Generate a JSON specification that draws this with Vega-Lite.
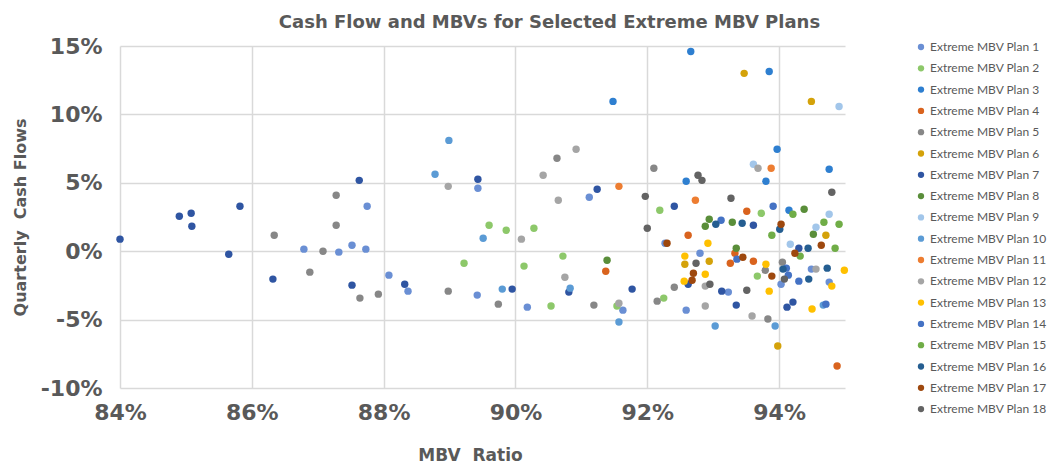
{
  "$schema": "https://vega.github.io/schema/vega-lite/v6.json",
  "autosize": {"type": "none"},
  "width": 725,
  "height": 342,
  "padding": {"left": 120, "top": 46, "right": 206, "bottom": 79},
  "background": "white",
  "config": {"view": {"stroke": null}},
  "title": {
    "text": "Cash Flow and MBVs for Selected Extreme MBV Plans",
    "font": "DejaVu Sans", "fontSize": 18, "fontWeight": "bold", "color": "#595959",
    "anchor": "middle", "dx": 67, "offset": 3
  },
  "datasets": {
    "pts": [
      {"plan": "Extreme MBV Plan 1", "mbv": 0.8775, "cf": 0.0328},
      {"plan": "Extreme MBV Plan 1", "mbv": 0.8679, "cf": 0.0015},
      {"plan": "Extreme MBV Plan 1", "mbv": 0.8732, "cf": -0.0007},
      {"plan": "Extreme MBV Plan 1", "mbv": 0.8752, "cf": 0.0044},
      {"plan": "Extreme MBV Plan 1", "mbv": 0.8773, "cf": 0.0015},
      {"plan": "Extreme MBV Plan 1", "mbv": 0.8808, "cf": -0.0175},
      {"plan": "Extreme MBV Plan 1", "mbv": 0.8837, "cf": -0.0292},
      {"plan": "Extreme MBV Plan 1", "mbv": 0.8943, "cf": 0.046},
      {"plan": "Extreme MBV Plan 1", "mbv": 0.8942, "cf": -0.0321},
      {"plan": "Extreme MBV Plan 1", "mbv": 0.9018, "cf": -0.0409},
      {"plan": "Extreme MBV Plan 1", "mbv": 0.9112, "cf": 0.0394},
      {"plan": "Extreme MBV Plan 1", "mbv": 0.9163, "cf": -0.0431},
      {"plan": "Extreme MBV Plan 1", "mbv": 0.9227, "cf": 0.0058},
      {"plan": "Extreme MBV Plan 1", "mbv": 0.928, "cf": -0.0015},
      {"plan": "Extreme MBV Plan 1", "mbv": 0.9259, "cf": -0.0431},
      {"plan": "Extreme MBV Plan 1", "mbv": 0.9323, "cf": -0.0299},
      {"plan": "Extreme MBV Plan 1", "mbv": 0.9403, "cf": -0.0241},
      {"plan": "Extreme MBV Plan 1", "mbv": 0.9449, "cf": -0.0131},
      {"plan": "Extreme MBV Plan 1", "mbv": 0.9476, "cf": -0.0226},
      {"plan": "Extreme MBV Plan 2", "mbv": 0.8922, "cf": -0.0088},
      {"plan": "Extreme MBV Plan 2", "mbv": 0.896, "cf": 0.019},
      {"plan": "Extreme MBV Plan 2", "mbv": 0.8986, "cf": 0.0153},
      {"plan": "Extreme MBV Plan 2", "mbv": 0.9028, "cf": 0.0168},
      {"plan": "Extreme MBV Plan 2", "mbv": 0.9013, "cf": -0.0109},
      {"plan": "Extreme MBV Plan 2", "mbv": 0.9054, "cf": -0.0401},
      {"plan": "Extreme MBV Plan 2", "mbv": 0.9072, "cf": -0.0036},
      {"plan": "Extreme MBV Plan 2", "mbv": 0.9154, "cf": -0.0401},
      {"plan": "Extreme MBV Plan 2", "mbv": 0.9219, "cf": 0.0299},
      {"plan": "Extreme MBV Plan 2", "mbv": 0.9373, "cf": 0.0277},
      {"plan": "Extreme MBV Plan 2", "mbv": 0.9367, "cf": -0.0182},
      {"plan": "Extreme MBV Plan 2", "mbv": 0.9225, "cf": -0.0343},
      {"plan": "Extreme MBV Plan 3", "mbv": 0.9148, "cf": 0.1095},
      {"plan": "Extreme MBV Plan 3", "mbv": 0.9266, "cf": 0.146},
      {"plan": "Extreme MBV Plan 3", "mbv": 0.9385, "cf": 0.1314},
      {"plan": "Extreme MBV Plan 3", "mbv": 0.9397, "cf": 0.0745},
      {"plan": "Extreme MBV Plan 3", "mbv": 0.9259, "cf": 0.0511},
      {"plan": "Extreme MBV Plan 3", "mbv": 0.938, "cf": 0.0511},
      {"plan": "Extreme MBV Plan 3", "mbv": 0.9476, "cf": 0.0599},
      {"plan": "Extreme MBV Plan 3", "mbv": 0.9415, "cf": 0.0299},
      {"plan": "Extreme MBV Plan 4", "mbv": 0.9137, "cf": -0.0146},
      {"plan": "Extreme MBV Plan 4", "mbv": 0.9262, "cf": 0.0117},
      {"plan": "Extreme MBV Plan 4", "mbv": 0.9351, "cf": 0.0292},
      {"plan": "Extreme MBV Plan 4", "mbv": 0.9333, "cf": -0.0015},
      {"plan": "Extreme MBV Plan 4", "mbv": 0.9361, "cf": -0.0073},
      {"plan": "Extreme MBV Plan 4", "mbv": 0.9326, "cf": -0.0088},
      {"plan": "Extreme MBV Plan 4", "mbv": 0.9488, "cf": -0.0839},
      {"plan": "Extreme MBV Plan 5", "mbv": 0.8728, "cf": 0.0409},
      {"plan": "Extreme MBV Plan 5", "mbv": 0.8728, "cf": 0.019},
      {"plan": "Extreme MBV Plan 5", "mbv": 0.8634, "cf": 0.0117},
      {"plan": "Extreme MBV Plan 5", "mbv": 0.8708, "cf": 0.0},
      {"plan": "Extreme MBV Plan 5", "mbv": 0.8688, "cf": -0.0153},
      {"plan": "Extreme MBV Plan 5", "mbv": 0.8764, "cf": -0.0343},
      {"plan": "Extreme MBV Plan 5", "mbv": 0.8792, "cf": -0.0314},
      {"plan": "Extreme MBV Plan 5", "mbv": 0.8898, "cf": -0.0292},
      {"plan": "Extreme MBV Plan 5", "mbv": 0.8974, "cf": -0.0387},
      {"plan": "Extreme MBV Plan 5", "mbv": 0.9063, "cf": 0.0679},
      {"plan": "Extreme MBV Plan 5", "mbv": 0.9119, "cf": -0.0394},
      {"plan": "Extreme MBV Plan 5", "mbv": 0.9215, "cf": -0.0365},
      {"plan": "Extreme MBV Plan 5", "mbv": 0.921, "cf": 0.0606},
      {"plan": "Extreme MBV Plan 5", "mbv": 0.9241, "cf": -0.0263},
      {"plan": "Extreme MBV Plan 5", "mbv": 0.9383, "cf": -0.0496},
      {"plan": "Extreme MBV Plan 5", "mbv": 0.9379, "cf": -0.0139},
      {"plan": "Extreme MBV Plan 5", "mbv": 0.9405, "cf": -0.008},
      {"plan": "Extreme MBV Plan 6", "mbv": 0.9347, "cf": 0.13},
      {"plan": "Extreme MBV Plan 6", "mbv": 0.9449, "cf": 0.1095},
      {"plan": "Extreme MBV Plan 6", "mbv": 0.9257, "cf": -0.0095},
      {"plan": "Extreme MBV Plan 6", "mbv": 0.9294, "cf": -0.0073},
      {"plan": "Extreme MBV Plan 6", "mbv": 0.9398, "cf": -0.0693},
      {"plan": "Extreme MBV Plan 6", "mbv": 0.9471, "cf": 0.0117},
      {"plan": "Extreme MBV Plan 7", "mbv": 0.84, "cf": 0.0088},
      {"plan": "Extreme MBV Plan 7", "mbv": 0.849, "cf": 0.0255},
      {"plan": "Extreme MBV Plan 7", "mbv": 0.8508, "cf": 0.0277},
      {"plan": "Extreme MBV Plan 7", "mbv": 0.8509, "cf": 0.0182},
      {"plan": "Extreme MBV Plan 7", "mbv": 0.8582, "cf": 0.0328},
      {"plan": "Extreme MBV Plan 7", "mbv": 0.8565, "cf": -0.0022},
      {"plan": "Extreme MBV Plan 7", "mbv": 0.8632, "cf": -0.0204},
      {"plan": "Extreme MBV Plan 7", "mbv": 0.8763, "cf": 0.0518},
      {"plan": "Extreme MBV Plan 7", "mbv": 0.8752, "cf": -0.0248},
      {"plan": "Extreme MBV Plan 7", "mbv": 0.8832, "cf": -0.0241},
      {"plan": "Extreme MBV Plan 7", "mbv": 0.8943, "cf": 0.0526},
      {"plan": "Extreme MBV Plan 7", "mbv": 0.8995, "cf": -0.0277},
      {"plan": "Extreme MBV Plan 7", "mbv": 0.9081, "cf": -0.0299},
      {"plan": "Extreme MBV Plan 7", "mbv": 0.9124, "cf": 0.0453},
      {"plan": "Extreme MBV Plan 7", "mbv": 0.9177, "cf": -0.0277},
      {"plan": "Extreme MBV Plan 7", "mbv": 0.9241, "cf": 0.0328},
      {"plan": "Extreme MBV Plan 7", "mbv": 0.9361, "cf": 0.019},
      {"plan": "Extreme MBV Plan 7", "mbv": 0.9262, "cf": -0.0241},
      {"plan": "Extreme MBV Plan 7", "mbv": 0.9313, "cf": -0.0292},
      {"plan": "Extreme MBV Plan 7", "mbv": 0.9335, "cf": -0.0394},
      {"plan": "Extreme MBV Plan 7", "mbv": 0.943, "cf": 0.0022},
      {"plan": "Extreme MBV Plan 7", "mbv": 0.9412, "cf": -0.0409},
      {"plan": "Extreme MBV Plan 7", "mbv": 0.9421, "cf": -0.0372},
      {"plan": "Extreme MBV Plan 8", "mbv": 0.9139, "cf": -0.0066},
      {"plan": "Extreme MBV Plan 8", "mbv": 0.9294, "cf": 0.0234},
      {"plan": "Extreme MBV Plan 8", "mbv": 0.9288, "cf": 0.0182},
      {"plan": "Extreme MBV Plan 8", "mbv": 0.9329, "cf": 0.0212},
      {"plan": "Extreme MBV Plan 8", "mbv": 0.9438, "cf": 0.0307},
      {"plan": "Extreme MBV Plan 8", "mbv": 0.9452, "cf": 0.0124},
      {"plan": "Extreme MBV Plan 8", "mbv": 0.9335, "cf": 0.0022},
      {"plan": "Extreme MBV Plan 9", "mbv": 0.9491, "cf": 0.1058},
      {"plan": "Extreme MBV Plan 9", "mbv": 0.9361, "cf": 0.0635},
      {"plan": "Extreme MBV Plan 9", "mbv": 0.9476, "cf": 0.027},
      {"plan": "Extreme MBV Plan 9", "mbv": 0.9456, "cf": 0.0175},
      {"plan": "Extreme MBV Plan 9", "mbv": 0.9417, "cf": 0.0051},
      {"plan": "Extreme MBV Plan 10", "mbv": 0.8899, "cf": 0.081},
      {"plan": "Extreme MBV Plan 10", "mbv": 0.8878, "cf": 0.0562},
      {"plan": "Extreme MBV Plan 10", "mbv": 0.8951, "cf": 0.0095},
      {"plan": "Extreme MBV Plan 10", "mbv": 0.898, "cf": -0.0277},
      {"plan": "Extreme MBV Plan 10", "mbv": 0.9083, "cf": -0.027},
      {"plan": "Extreme MBV Plan 10", "mbv": 0.9157, "cf": -0.0518},
      {"plan": "Extreme MBV Plan 10", "mbv": 0.9303, "cf": -0.0547},
      {"plan": "Extreme MBV Plan 10", "mbv": 0.9394, "cf": -0.0547},
      {"plan": "Extreme MBV Plan 10", "mbv": 0.9467, "cf": -0.0394},
      {"plan": "Extreme MBV Plan 11", "mbv": 0.9157, "cf": 0.0474},
      {"plan": "Extreme MBV Plan 11", "mbv": 0.9273, "cf": 0.0372},
      {"plan": "Extreme MBV Plan 11", "mbv": 0.9388, "cf": 0.0606},
      {"plan": "Extreme MBV Plan 12", "mbv": 0.8898, "cf": 0.0474},
      {"plan": "Extreme MBV Plan 12", "mbv": 0.9009, "cf": 0.0088},
      {"plan": "Extreme MBV Plan 12", "mbv": 0.9092, "cf": 0.0745},
      {"plan": "Extreme MBV Plan 12", "mbv": 0.9042, "cf": 0.0555},
      {"plan": "Extreme MBV Plan 12", "mbv": 0.9065, "cf": 0.0372},
      {"plan": "Extreme MBV Plan 12", "mbv": 0.9075, "cf": -0.019},
      {"plan": "Extreme MBV Plan 12", "mbv": 0.9157, "cf": -0.038},
      {"plan": "Extreme MBV Plan 12", "mbv": 0.9368, "cf": 0.0606},
      {"plan": "Extreme MBV Plan 12", "mbv": 0.9288, "cf": -0.0255},
      {"plan": "Extreme MBV Plan 12", "mbv": 0.9288, "cf": -0.0401},
      {"plan": "Extreme MBV Plan 12", "mbv": 0.9359, "cf": -0.0474},
      {"plan": "Extreme MBV Plan 12", "mbv": 0.9456, "cf": -0.0131},
      {"plan": "Extreme MBV Plan 13", "mbv": 0.9292, "cf": 0.0058},
      {"plan": "Extreme MBV Plan 13", "mbv": 0.9257, "cf": -0.0036},
      {"plan": "Extreme MBV Plan 13", "mbv": 0.9288, "cf": -0.0168},
      {"plan": "Extreme MBV Plan 13", "mbv": 0.9256, "cf": -0.0219},
      {"plan": "Extreme MBV Plan 13", "mbv": 0.938, "cf": -0.0095},
      {"plan": "Extreme MBV Plan 13", "mbv": 0.9385, "cf": -0.0292},
      {"plan": "Extreme MBV Plan 13", "mbv": 0.9499, "cf": -0.0139},
      {"plan": "Extreme MBV Plan 13", "mbv": 0.948, "cf": -0.0255},
      {"plan": "Extreme MBV Plan 13", "mbv": 0.945, "cf": -0.0423},
      {"plan": "Extreme MBV Plan 14", "mbv": 0.9312, "cf": 0.0226},
      {"plan": "Extreme MBV Plan 14", "mbv": 0.9391, "cf": 0.0328},
      {"plan": "Extreme MBV Plan 14", "mbv": 0.9336, "cf": -0.0058},
      {"plan": "Extreme MBV Plan 14", "mbv": 0.9411, "cf": -0.0124},
      {"plan": "Extreme MBV Plan 14", "mbv": 0.9414, "cf": -0.0175},
      {"plan": "Extreme MBV Plan 14", "mbv": 0.943, "cf": -0.0219},
      {"plan": "Extreme MBV Plan 14", "mbv": 0.9471, "cf": -0.0387},
      {"plan": "Extreme MBV Plan 15", "mbv": 0.9421, "cf": 0.027},
      {"plan": "Extreme MBV Plan 15", "mbv": 0.9389, "cf": 0.0117},
      {"plan": "Extreme MBV Plan 15", "mbv": 0.9468, "cf": 0.0212},
      {"plan": "Extreme MBV Plan 15", "mbv": 0.9491, "cf": 0.0197},
      {"plan": "Extreme MBV Plan 15", "mbv": 0.9485, "cf": 0.0022},
      {"plan": "Extreme MBV Plan 15", "mbv": 0.9432, "cf": -0.0036},
      {"plan": "Extreme MBV Plan 16", "mbv": 0.9304, "cf": 0.0197},
      {"plan": "Extreme MBV Plan 16", "mbv": 0.9344, "cf": 0.0204},
      {"plan": "Extreme MBV Plan 16", "mbv": 0.9401, "cf": 0.0161},
      {"plan": "Extreme MBV Plan 16", "mbv": 0.9444, "cf": 0.0022},
      {"plan": "Extreme MBV Plan 16", "mbv": 0.9406, "cf": -0.0131},
      {"plan": "Extreme MBV Plan 16", "mbv": 0.9445, "cf": -0.0204},
      {"plan": "Extreme MBV Plan 16", "mbv": 0.9473, "cf": -0.0124},
      {"plan": "Extreme MBV Plan 17", "mbv": 0.923, "cf": 0.0058},
      {"plan": "Extreme MBV Plan 17", "mbv": 0.9403, "cf": 0.0197},
      {"plan": "Extreme MBV Plan 17", "mbv": 0.9464, "cf": 0.0044},
      {"plan": "Extreme MBV Plan 17", "mbv": 0.9424, "cf": -0.0015},
      {"plan": "Extreme MBV Plan 17", "mbv": 0.9345, "cf": -0.0044},
      {"plan": "Extreme MBV Plan 17", "mbv": 0.927, "cf": -0.0161},
      {"plan": "Extreme MBV Plan 17", "mbv": 0.9268, "cf": -0.0212},
      {"plan": "Extreme MBV Plan 17", "mbv": 0.9389, "cf": -0.0182},
      {"plan": "Extreme MBV Plan 18", "mbv": 0.9197, "cf": 0.0401},
      {"plan": "Extreme MBV Plan 18", "mbv": 0.92, "cf": 0.0168},
      {"plan": "Extreme MBV Plan 18", "mbv": 0.9277, "cf": 0.0555},
      {"plan": "Extreme MBV Plan 18", "mbv": 0.9283, "cf": 0.0518},
      {"plan": "Extreme MBV Plan 18", "mbv": 0.9327, "cf": 0.0387},
      {"plan": "Extreme MBV Plan 18", "mbv": 0.948, "cf": 0.0431},
      {"plan": "Extreme MBV Plan 18", "mbv": 0.9274, "cf": -0.0088},
      {"plan": "Extreme MBV Plan 18", "mbv": 0.9295, "cf": -0.0241},
      {"plan": "Extreme MBV Plan 18", "mbv": 0.9351, "cf": -0.0285},
      {"plan": "Extreme MBV Plan 18", "mbv": 0.9408, "cf": -0.0204}
    ]
  },
  "layer": [
    {
      "mark": {"type": "rule", "color": "#BFBFBF", "strokeWidth": 1},
      "encoding": {"y": {"datum": 0, "type": "quantitative"}}
    },
    {
      "data": {"name": "pts"},
      "mark": {"type": "point", "filled": true, "shape": "circle", "size": 55, "opacity": 1},
      "encoding": {
        "x": {
          "field": "mbv", "type": "quantitative",
          "scale": {"domain": [0.84, 0.95], "nice": false, "zero": false},
          "axis": {
            "title": "MBV\u00a0 Ratio",
            "values": [0.84, 0.86, 0.88, 0.9, 0.92, 0.94],
            "format": ".0%",
            "domain": false, "ticks": false, "labelFlush": false, "labelOverlap": false,
            "grid": true, "gridColor": "#D9D9D9", "gridWidth": 1.5,
            "labelFont": "DejaVu Sans", "labelFontSize": 22, "labelFontWeight": "bold", "labelColor": "#595959",
            "labelPadding": 14,
            "titleFont": "DejaVu Sans", "titleFontSize": 17, "titleFontWeight": "bold", "titleColor": "#595959",
            "titlePadding": 24, "titleX": 350
          }
        },
        "y": {
          "field": "cf", "type": "quantitative",
          "scale": {"domain": [-0.1, 0.15], "nice": false, "zero": false},
          "axis": {
            "title": "Quarterly\u00a0 Cash Flows",
            "values": [-0.1, -0.05, 0, 0.05, 0.1, 0.15],
            "labelExpr": "(datum.value < 0 ? '-' : '') + format(abs(datum.value), '.0%')",
            "domain": false, "ticks": false, "labelOverlap": false,
            "grid": true, "gridColor": "#D9D9D9", "gridWidth": 1.5,
            "labelFont": "DejaVu Sans", "labelFontSize": 22, "labelFontWeight": "bold", "labelColor": "#595959",
            "labelPadding": 18,
            "titleFont": "DejaVu Sans", "titleFontSize": 16, "titleFontWeight": "bold", "titleColor": "#595959",
            "titlePadding": 12
          }
        },
        "color": {
          "field": "plan", "type": "nominal",
          "scale": {
            "domain": ["Extreme MBV Plan 1", "Extreme MBV Plan 2", "Extreme MBV Plan 3", "Extreme MBV Plan 4", "Extreme MBV Plan 5", "Extreme MBV Plan 6", "Extreme MBV Plan 7", "Extreme MBV Plan 8", "Extreme MBV Plan 9", "Extreme MBV Plan 10", "Extreme MBV Plan 11", "Extreme MBV Plan 12", "Extreme MBV Plan 13", "Extreme MBV Plan 14", "Extreme MBV Plan 15", "Extreme MBV Plan 16", "Extreme MBV Plan 17", "Extreme MBV Plan 18"],
            "range": ["#6A8FD4", "#8DC86A", "#2E7FD0", "#D9631E", "#878787", "#D4A20A", "#2F55A2", "#5A8E3A", "#A2C6EA", "#5B9BD5", "#ED7D31", "#A5A5A5", "#FFC000", "#4472C4", "#70AD47", "#255E91", "#9E480E", "#636363"]
          },
          "legend": {
            "title": null, "orient": "none", "legendX": 795, "legendY": -5,
            "padding": 0, "rowPadding": 9.3,
            "symbolType": "circle", "symbolSize": 40, "symbolStrokeWidth": 0,
            "labelFont": "Lato", "labelFontSize": 12, "labelColor": "#595959", "labelOffset": 3,
            "labelLimit": 200
          }
        }
      }
    }
  ]
}
